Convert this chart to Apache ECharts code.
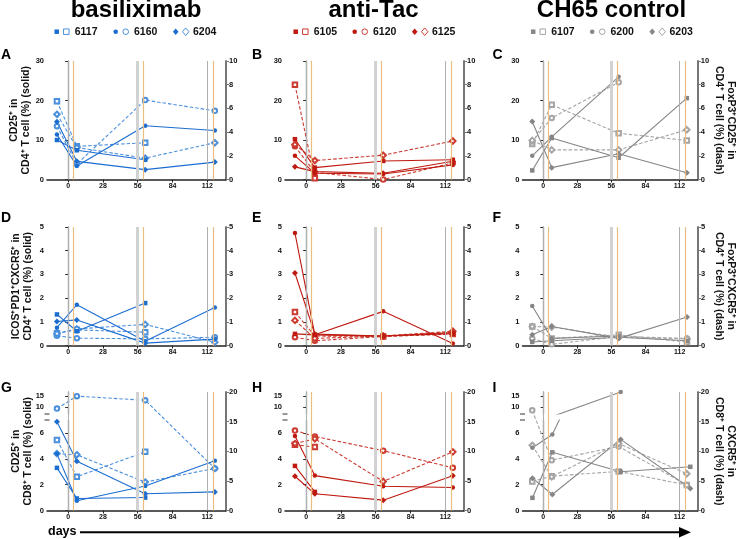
<!DOCTYPE html>
<html>
<head>
<meta charset="utf-8">
<script src="https://cdn.jsdelivr.net/npm/echarts@6/dist/echarts.min.js"></script>
<style>
html, body { margin:0; padding:0; background:#fff; }
#chart { width:738px; height:539px; }
</style>
</head>
<body>
<div id="chart"></div>
<script>
// sampling days and the dosing / reference lines
var days = [-9, 7, 62, 118];
var grayDays = [0, 56, 112];
var orangeDays = [4.5, 60.5, 116.5];
var xTicks = [0, 28, 56, 84, 112];

var groups = ['basiliximab', 'anti-Tac', 'CH65 control'];
var animals = [['6117', '6160', '6204'], ['6105', '6120', '6125'], ['6107', '6200', '6203']];

// row 1 : CD25+ in CD4+ (solid, left 0-30) / FoxP3+CD25+ in CD4+ (dash, right 0-10)
var aSolid = [[10.0, 7.4, 5.0, null], [11.4, 3.4, 13.6, 12.4], [14.6, 4.6, 2.5, 4.4]];
var aDash  = [[6.6, 2.8, 3.1, null], [4.5, 1.3, 6.7, 5.8], [5.5, 2.7, 1.8, 3.1]];
var bSolid = [[10.2, 3.0, 4.7, 5.0], [6.0, 1.6, 1.4, 3.7], [3.2, 2.0, 1.6, 4.6]];
var bDash  = [[8.0, 0.1, null, null], [2.8, 0.6, 0.0, 1.4], [2.95, 1.6, 2.05, 3.25]];
var cSolid = [[2.3, 10.5, 5.5, 20.6], [6.0, 10.8, 26.0, null], [14.7, 3.0, 6.5, 1.7]];
var cDash  = [[3.0, 6.3, 3.9, 3.3], [3.2, 5.2, 8.2, null], [3.3, 2.5, 2.5, 4.2]];

// row 2 : ICOS+PD1+CXCR5+ in CD4+ (solid, 0-5) / FoxP3+CXCR5+ in CD4+ (dash, 0-5)
var dSolid = [[1.31, 0.6, 1.79, null], [0.75, 1.72, 0.18, 1.6], [1.01, 1.08, 0.1, 0.27]];
var dDash  = [[0.52, 0.66, 0.56, null], [0.41, 0.31, 0.28, 0.35], [0.5, 0.7, 0.89, 0.14]];
var eSolid = [[0.49, 0.45, 0.4, 0.5], [4.75, 0.45, 1.44, 0.08], [3.06, 0.48, 0.4, 0.55]];
var eDash  = [[1.41, 0.4, 0.38, 0.48], [0.35, 0.2, 0.38, 0.55], [1.06, 0.3, 0.4, 0.6]];
var fSolid = [[0.15, 0.2, 0.35, 0.2], [1.67, 0.3, 0.4, null], [0.45, 0.8, 0.3, 1.2]];
var fDash  = [[0.8, 0.3, 0.45, 0.15], [0.3, 0.05, 0.38, 0.3], [0.8, 0.78, 0.35, 0.28]];

// row 3 : CD25+ in CD8+ (solid, broken left axis) / CXCR5+ in CD8+ (dash, right 0-20)
var gSolid = [[3.3, 0.93, 1.0, null], [4.38, 0.75, 1.9, 3.84], [6.86, 3.8, 1.3, 1.44]];
var gDash  = [[11.9, 5.7, 9.9, null], [17.2, 19.3, 18.6, 7.1], [9.6, 9.4, 4.8, 7.1]];
var hSolid = [[3.45, 1.44, null, null], [5.77, 2.7, 1.88, 1.78], [2.65, 1.29, 0.8, 2.68]];
var hDash  = [[11.1, 10.7, null, null], [13.5, 12.5, 10.1, 7.2], [11.3, 12.1, 4.9, 9.9]];
var iSolid = [[0.98, 4.5, 3.0, 3.38], [4.85, 5.88, 17.0, null], [2.5, 1.24, 5.5, 1.7]];
var iDash  = [[4.9, 5.8, 6.6, 4.3], [16.9, 8.5, 10.8, 4.3], [11.0, 5.7, 11.3, 6.2]];

var panelSolid = [[aSolid, bSolid, cSolid], [dSolid, eSolid, fSolid], [gSolid, hSolid, iSolid]];
var panelDash = [[aDash, bDash, cDash], [dDash, eDash, fDash], [gDash, hDash, iDash]];
var letters = [['A', 'B', 'C'], ['D', 'E', 'F'], ['G', 'H', 'I']];

var leftNames = ['CD25\u207A in\nCD4\u207A T cell (%) (solid)',
                 'ICOS\u207APD1\u207ACXCR5\u207A in\nCD4\u207A T cell (%) (solid)',
                 'CD25\u207A in\nCD8\u207A T cell (%) (solid)'];
var rightNames = ['FoxP3\u207ACD25\u207A in\nCD4\u207A T cell (%) (dash)',
                  'FoxP3\u207ACXCR5\u207A in\nCD4\u207A T cell (%) (dash)',
                  'CXCR5\u207A in\nCD8\u207A T cell (%) (dash)'];

var font = 'Liberation Sans, Arial, sans-serif';
var solidColors = ['#1c6dd0', '#bf1a10', '#868686'];
var dashColors = ['#4b90dd', '#cc3a30', '#a5a5a5'];
var filledSym = ['rect', 'circle', 'diamond'];
var openSym = ['emptyRect', 'emptyCircle', 'emptyDiamond'];
var filledSize = [4.5, 4.5, 6];
var openSize = [4.5, 4.5, 5.5];

var colLeft = [47, 285, 522.5];
var colWidth = 179;
var rowTop = [61, 227, 392];
var rowHeight = 118.5;

var grids = [];
var xAxes = [];
var yAxes = [];
var series = [];
var graphics = [];

function makeX(gi, show){
	return {
		type: 'value', gridIndex: gi, min: -17, max: 127, show: show,
		axisLine: {show: true, onZero: false, lineStyle: {color: '#222', width: 1.5}},
		axisTick: {show: true, length: 3, customValues: xTicks, lineStyle: {color: '#222'}},
		axisLabel: {customValues: xTicks, fontSize: 7, fontWeight: 'bold', color: '#111', margin: 3, fontFamily: font},
		splitLine: {show: false}
	};
}

function makeY(gi, pos, min, max, interval, lineColor, lineWidth){
	return {
		type: 'value', gridIndex: gi, position: pos, min: min, max: max, interval: interval,
		axisLine: {show: true, lineStyle: {color: lineColor, width: lineWidth}},
		axisTick: {show: true, length: 3, lineStyle: {color: lineColor, width: 1}},
		axisLabel: {fontSize: 7.5, fontWeight: 'bold', color: '#111', margin: 3, fontFamily: font},
		splitLine: {show: false}
	};
}

function setName(axis, name, pos){
	axis.name = name;
	axis.nameLocation = 'middle';
	axis.nameGap = pos == 'left' ? 13 : 15;
	axis.nameRotate = pos == 'left' ? 90 : -90;
	axis.nameTextStyle = {fontSize: 10.5, fontWeight: 'bold', color: '#111', fontFamily: font, lineHeight: 12};
}

function toPoints(values){
	var pts = [];
	for(var i=0; i<values.length; i++){
		if(values[i] != null)
			pts.push([days[i], values[i]]);
	}
	return pts;
}

function addLine(xi, yi, values, col, k, dashed){
	series.push({
		type: 'line',
		xAxisIndex: xi,
		yAxisIndex: yi,
		data: toPoints(values),
		clip: true,
		z: 3,
		symbol: dashed ? openSym[k] : filledSym[k],
		symbolSize: dashed ? openSize[k] : filledSize[k],
		lineStyle: {color: dashed ? dashColors[col] : solidColors[col], width: 1.1, type: dashed ? [3.5, 2] : 'solid'},
		itemStyle: {color: dashed ? dashColors[col] : solidColors[col], borderWidth: dashed ? 1 : 0},
		emphasis: {disabled: true},
		silent: true,
		animation: false
	});
}

function addGuides(xi, yi){
	var lines = [];
	for(var i=0; i<grayDays.length; i++){
		lines.push({xAxis: grayDays[i], lineStyle: {color: i == 1 ? '#d2d2d2' : '#b0b0b0', width: i == 1 ? 3 : 1, type: 'solid'}});
	}
	for(var i=0; i<orangeDays.length; i++){
		lines.push({xAxis: orangeDays[i], lineStyle: {color: '#ebbd80', width: 1.2, type: 'solid'}});
	}
	series.push({
		type: 'line', xAxisIndex: xi, yAxisIndex: yi, data: [], z: 1, silent: true, animation: false,
		markLine: {symbol: ['none', 'none'], silent: true, label: {show: false}, animation: false, data: lines}
	});
}

function buildPanel(row, col){
	var left = colLeft[col];
	var top = rowTop[row];
	var solid = panelSolid[row][col];
	var dash = panelDash[row][col];

	grids.push({left: left, top: top, width: colWidth, height: rowHeight});
	var gi = grids.length - 1;
	xAxes.push(makeX(gi, true));
	var xi = xAxes.length - 1;

	if(row < 2){
		var yl = makeY(gi, 'left', 0, row == 0 ? 30 : 5, row == 0 ? 10 : 1, '#333', 1.2);
		var yr = makeY(gi, 'right', 0, row == 0 ? 10 : 5, row == 0 ? 2 : 1, '#777', 2);
		if(col == 0) setName(yl, leftNames[row], 'left');
		if(col == 2) setName(yr, rightNames[row], 'right');
		yAxes.push(yl);
		var yli = yAxes.length - 1;
		yAxes.push(yr);
		var yri = yAxes.length - 1;
		addGuides(xi, yli);
		for(var k=0; k<3; k++) addLine(xi, yri, dash[k], col, k, true);
		for(var k=0; k<3; k++) addLine(xi, yli, solid[k], col, k, false);
		return;
	}

	// row 3 : full-height grid carries the x axis, right axis and a name-only left axis
	var yName = makeY(gi, 'left', 0, 20, 5, '#333', 1.2);
	yName.axisLine.show = false;
	yName.axisTick.show = false;
	yName.axisLabel.show = false;
	if(col == 0) setName(yName, leftNames[row], 'left');
	var yr = makeY(gi, 'right', 0, 20, 5, '#777', 2);
	if(col == 2) setName(yr, rightNames[row], 'right');
	yAxes.push(yName);
	var yni = yAxes.length - 1;
	yAxes.push(yr);
	var yri = yAxes.length - 1;
	addGuides(xi, yni);
	for(var k=0; k<3; k++) addLine(xi, yri, dash[k], col, k, true);

	// lower part of the broken left axis, 0-7
	grids.push({left: left, top: 420, width: colWidth, height: rowTop[row] + rowHeight - 420});
	var gLow = grids.length - 1;
	xAxes.push(makeX(gLow, false));
	var xLow = xAxes.length - 1;
	var yLow = makeY(gLow, 'left', 0, 7, 2, '#333', 1.2);
	yLow.axisLabel.showMaxLabel = false;
	yAxes.push(yLow);
	var yLowi = yAxes.length - 1;

	// upper part of the broken left axis, 7-17
	grids.push({left: left, top: top, width: colWidth, height: 22});
	var gUp = grids.length - 1;
	xAxes.push(makeX(gUp, false));
	var xUp = xAxes.length - 1;
	var yUp = makeY(gUp, 'left', 7, 17, 5, '#333', 1.2);
	yUp.axisTick.customValues = [10, 15];
	yUp.axisLabel.customValues = [10, 15];
	yAxes.push(yUp);
	var yUpi = yAxes.length - 1;

	for(var k=0; k<3; k++){
		addLine(xLow, yLowi, solid[k], col, k, false);
		var over = false;
		for(var j=0; j<solid[k].length; j++) if(solid[k][j] != null && solid[k][j] > 7) over = true;
		if(over) addLine(xUp, yUpi, solid[k], col, k, false);
	}

	// break marks on the left axis
	graphics.push({type: 'line', shape: {x1: left - 2.5, y1: top + 22, x2: left + 2.5, y2: top + 22}, style: {stroke: '#333', lineWidth: 1}});
	graphics.push({type: 'line', shape: {x1: left - 2.5, y1: 420, x2: left + 2.5, y2: 420}, style: {stroke: '#333', lineWidth: 1}});
}

for(var r=0; r<3; r++)
	for(var c=0; c<3; c++)
		buildPanel(r, c);

// column titles, legends and panel letters
var titleX = [136, 373.5, 611.5];
var legendOffset = [0, 239, 476.5];
var symX = [[56.7, 66.3, 74.7], [115.7, 125.7, 134], [175.7, 185.7, 193]];
var legendY = 31.7;
var letterX = [1, 252, 492.5];
var letterY = [55, 218, 388];

function legendMark(kind, filled, cx, cy, color){
	var st = filled ? {fill: color} : {fill: '#fff', stroke: color, lineWidth: 1};
	if(kind == 0){
		var s = filled ? 4.5 : 5.5;
		return {type: 'rect', shape: {x: cx - s/2, y: cy - s/2, width: s, height: s}, style: st};
	}
	if(kind == 1)
		return {type: 'circle', shape: {cx: cx, cy: cy, r: filled ? 2.3 : 2.8}, style: st};
	var h = filled ? 3.3 : 3.8;
	return {type: 'polygon', shape: {points: [[cx, cy - h], [cx + h*0.85, cy], [cx, cy + h], [cx - h*0.85, cy]]}, style: st};
}

for(var c=0; c<3; c++){
	graphics.push({type: 'text', style: {text: groups[c], x: titleX[c], y: 10, align: 'center', verticalAlign: 'middle',
		font: 'bold 24px ' + font, fill: '#000'}});
	for(var k=0; k<3; k++){
		graphics.push(legendMark(k, true, symX[k][0] + legendOffset[c], legendY, solidColors[c]));
		graphics.push(legendMark(k, false, symX[k][1] + legendOffset[c], legendY, dashColors[c]));
		graphics.push({type: 'text', style: {text: animals[c][k], x: symX[k][2] + legendOffset[c], y: legendY, align: 'left', verticalAlign: 'middle',
			font: 'bold 10.5px ' + font, fill: '#111'}});
	}
	for(var r=0; r<3; r++){
		graphics.push({type: 'text', style: {text: letters[r][c], x: letterX[c], y: letterY[r], align: 'left', verticalAlign: 'middle',
			font: 'bold 14px ' + font, fill: '#000'}});
	}
}

// days arrow along the bottom
graphics.push({type: 'text', style: {text: 'days', x: 48, y: 532, align: 'left', verticalAlign: 'middle', font: 'bold 12.5px ' + font, fill: '#000'}});
graphics.push({type: 'line', shape: {x1: 80, y1: 532.3, x2: 682, y2: 532.3}, style: {stroke: '#000', lineWidth: 2}});
graphics.push({type: 'polygon', shape: {points: [[679, 527], [691, 532.3], [679, 537.6]]}, style: {fill: '#000'}});

var chart = echarts.init(document.getElementById('chart'), null, {renderer: 'canvas'});
chart.setOption({
	animation: false,
	backgroundColor: '#fff',
	grid: grids,
	xAxis: xAxes,
	yAxis: yAxes,
	series: series,
	graphic: graphics
});
</script>
</body>
</html>
